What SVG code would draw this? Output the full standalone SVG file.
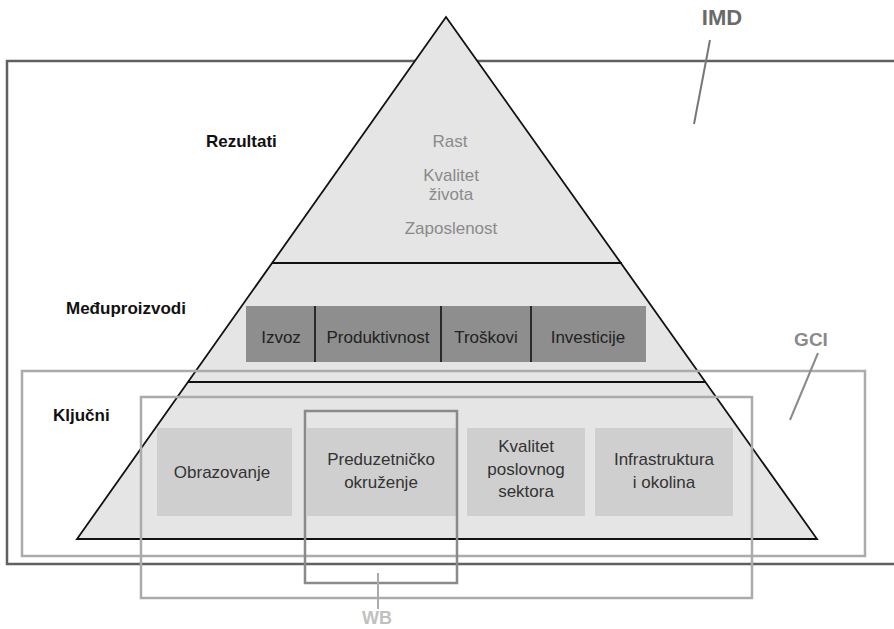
<svg xmlns="http://www.w3.org/2000/svg" width="894" height="629" viewBox="0 0 894 629">
<style>
text{font-family:"Liberation Sans",Arial,sans-serif;text-anchor:middle}
.lbl{font-weight:bold;font-size:17px;fill:#111;text-anchor:start}
.top{font-size:17px;fill:#8a8a8a}
.mid{font-size:17px;fill:#222}
.low{font-size:17px;fill:#333}
.dark{fill:#8e8e8e}
.light{fill:#cfcfcf}
.frame{fill:none;stroke-width:2.5}
</style>
<rect width="894" height="629" fill="#fff"/>
<g id="imd">
<path d="M898 61 H7 V564 H898" fill="none" stroke="#606060" stroke-width="2.5"/>
</g>
<g id="pyramid">
<polygon points="446,17 817,539 77,539" fill="#e5e5e5" stroke="#111" stroke-width="1.8" stroke-linejoin="miter"/>
<line x1="272" y1="263" x2="622" y2="263" stroke="#111" stroke-width="1.8"/>
<line x1="188" y1="382" x2="706" y2="382" stroke="#111" stroke-width="1.8"/>
</g>
<g id="rezultati">
<text class="top" x="450" y="147">Rast</text>
<text class="top" x="451" y="181">Kvalitet</text>
<text class="top" x="451" y="200">života</text>
<text class="top" x="451" y="234">Zaposlenost</text>
</g>
<g id="meduproizvodi">
<rect class="dark" x="246" y="306" width="400" height="56"/>
<line x1="315" y1="306" x2="315" y2="362" stroke="#111" stroke-width="1.6"/>
<line x1="441" y1="306" x2="441" y2="362" stroke="#111" stroke-width="1.6"/>
<line x1="531" y1="306" x2="531" y2="362" stroke="#111" stroke-width="1.6"/>
<text class="mid" x="281" y="343">Izvoz</text>
<text class="mid" x="378" y="343">Produktivnost</text>
<text class="mid" x="486" y="343">Troškovi</text>
<text class="mid" x="588" y="343">Investicije</text>
</g>
<g id="kljucni">
<rect class="light" x="157" y="428" width="135" height="88"/>
<rect class="light" x="307" y="428" width="149" height="88"/>
<rect class="light" x="467" y="428" width="118" height="88"/>
<rect class="light" x="595" y="428" width="138" height="88"/>
<text class="low" x="222" y="478">Obrazovanje</text>
<text class="low" x="381" y="465">Preduzetničko</text>
<text class="low" x="381" y="488">okruženje</text>
<text class="low" x="526" y="452">Kvalitet</text>
<text class="low" x="526" y="475">poslovnog</text>
<text class="low" x="526" y="497">sektora</text>
<text class="low" x="664" y="465">Infrastruktura</text>
<text class="low" x="664" y="488">i okolina</text>
</g>
<g id="gci">
<rect class="frame" x="22" y="371" width="843" height="185" stroke="#ababab"/>
</g>
<g id="wb">
<rect class="frame" x="141" y="397" width="611" height="201" stroke="#ababab"/>
<rect class="frame" x="305" y="411" width="152" height="172" stroke="#8a8a8a"/>
</g>
<g id="labels">
<text class="lbl" x="206" y="147">Rezultati</text>
<text class="lbl" x="66" y="314">Međuproizvodi</text>
<text class="lbl" x="53" y="421">Ključni</text>
<text x="722" y="25" style="font-size:22px;font-weight:bold;fill:#6a6a6a">IMD</text>
<text x="811" y="346" style="font-size:19px;font-weight:bold;fill:#8a8a8a">GCI</text>
<text x="377" y="624" style="font-size:18px;font-weight:bold;fill:#c0c0c0">WB</text>
</g>
<g id="connectors" fill="none" stroke-width="2">
<line x1="710" y1="40" x2="694" y2="124" stroke="#777"/>
<line x1="818" y1="353" x2="790" y2="420" stroke="#8a8a8a"/>
<line x1="378" y1="573" x2="378" y2="609" stroke="#ababab"/>
</g>
</svg>
